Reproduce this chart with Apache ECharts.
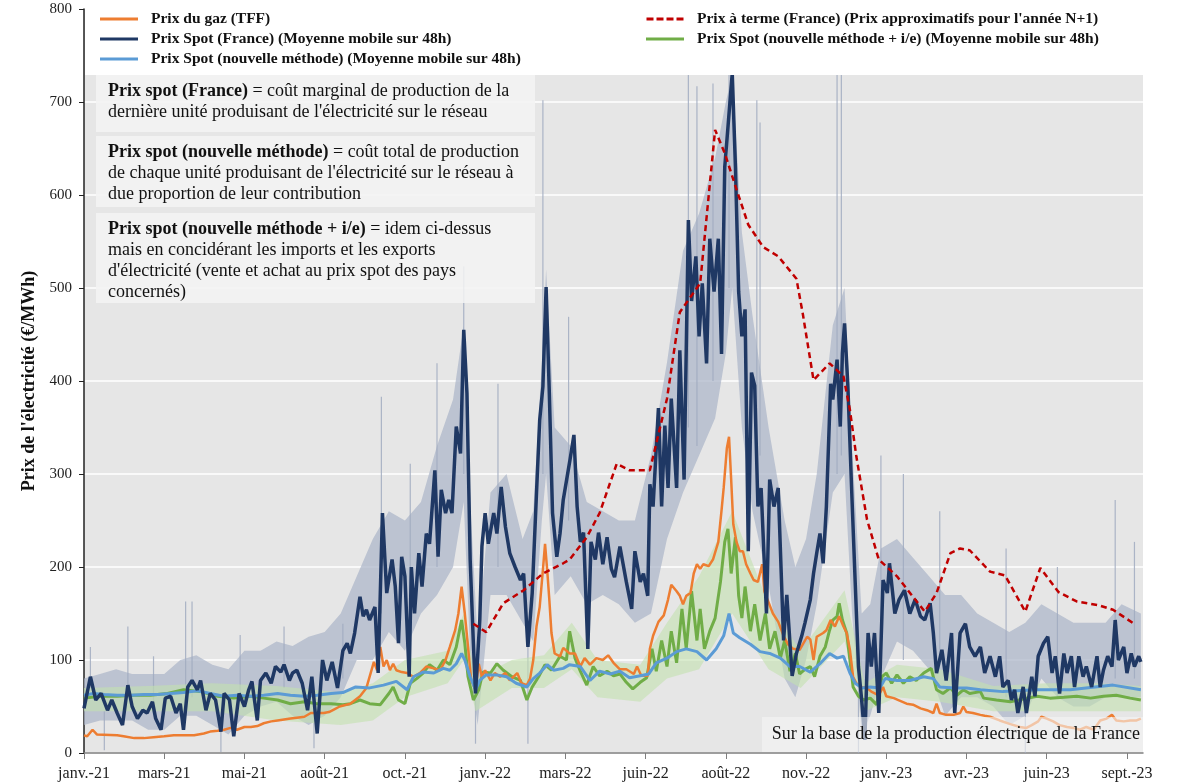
<!DOCTYPE html>
<html>
<head>
<meta charset="utf-8">
<script src="https://cdn.jsdelivr.net/npm/echarts@6/dist/echarts.min.js"></script>
<style>
  html, body { margin: 0; padding: 0; background: #fff; }
  #chart { width: 1200px; height: 784px; }
</style>
</head>
<body>
<div id="chart"></div>
<script>
// x = jours depuis le 1er janvier 2021, y = €/MWh
const xTickLabels = ['janv.-21', 'mars-21', 'mai-21', 'août-21', 'oct.-21', 'janv.-22', 'mars-22',
  'juin-22', 'août-22', 'nov.-22', 'janv.-23', 'avr.-23', 'juin-23', 'sept.-23']

const spotFrance = [[0,48],[6,82],[11,57],[16,64],[22,46],[26,57],[31,43],[36,30],[41,73],[45,50],[50,37],[55,46],[59,43],[64,55],[67,37],[72,25],[76,59],[81,61],[86,43],[90,53],[93,25],[97,71],[101,78],[106,68],[109,78],[114,46],[118,64],[123,57],[128,23],[131,64],[136,57],[140,18],[145,64],[150,50],[154,68],[157,77],[162,35],[165,78],[170,86],[175,75],[179,93],[184,87],[187,95],[192,78],[195,86],[199,89],[204,75],[209,46],[213,82],[218,21],[223,100],[227,78],
  [232,98],[237,70],[242,110],[246,118],[249,107],[253,129],[258,168],[261,147],[264,154],[267,143],[272,157],[275,86],[279,258],[283,172],[288,208],[291,179],[294,118],[297,211],[300,190],[304,82],[306,200],[309,150],[313,215],[316,179],[320,236],[323,225],[328,304],[331,211],[334,283],[338,258],[341,272],[344,258],[348,351],[352,322],[355,455],[358,387],[361,208],[364,118],[366,64],[370,143],[372,222],[375,258],[378,225],[383,258],[386,236],[390,286],[394,243],[398,215],[403,200],[408,186],[411,193],[415,114],[419,172],[423,279],[426,358],[429,394],[432,501],[435,387],[438,258],[442,211],[445,236],[448,272],
  [454,313],[458,342],[461,265],[464,227],[467,237],[471,112],[474,227],[478,208],[481,237],[485,203],[489,232],[493,198],[496,189],[501,222],[504,203],[507,184],[512,155],[515,217],[520,184],[523,193],[527,169],[529,289],[532,265],[537,371],[540,265],[543,352],[546,285],[549,381],[554,285],[557,433],[561,294],[565,573],[568,486],[572,534],[575,448],[578,505],[582,419],[585,553],[589,496],[593,553],[596,429],[599,630],[602,673],[606,731],[609,630],[612,496],[615,448],[618,477],[621,217],[624,409],[627,395],[630,265],[633,285],[638,150],[641,294],[645,265],[649,285],[654,121],[657,170],[662,83],[666,107],[671,126],[674,140],
  [679,165],[682,193],[685,215],[688,236],[691,204],[694,265],[698,397],[700,380],[704,423],[707,351],[709,430],[711,462],[714,397],[718,272],[721,182],[724,93],[727,57],[730,14],[733,129],[736,93],[739,129],[743,43],[747,186],[751,172],[753,204],[758,150],[762,165],[767,175],[772,150],[777,165],[782,147],[786,143],[791,161],[794,129],[797,86],[802,111],[806,78],[811,129],[814,43],[819,129],[824,139],
  [828,114],[833,104],[838,114],[842,86],[847,104],[852,82],[856,104],[859,71],[864,78],[867,57],[870,68],[873,43],[878,71],[881,43],[886,82],[889,61],[892,104],[897,118],[901,125],[905,86],[908,104],[912,64],[916,107],[919,86],[923,104],[926,71],[930,104],[934,82],[937,93],[942,71],[947,104],[950,71],[953,89],[957,104],[961,93],[964,143],[967,100],[972,114],[975,86],[979,107],[982,93],[986,104],[988,98]]

const gasTTF = [[0,19],[3,18],[8,25],[12,20],[31,19],[37,18],[47,16],[56,16],[65,17],[75,18],[84,19],[93,19],[103,19],[112,21],[118,23],[125,24],[131,25],[137,27],[143,25],[150,28],[156,28],[162,29],[168,32],[175,34],[181,35],[187,36],[193,37],[199,38],[206,39],[212,43],[218,43],[224,43],[229,44],
  [234,47],[239,50],[249,53],[258,61],[264,70],[271,98],[274,89],[277,114],[280,93],[283,100],[286,89],[289,96],[292,89],[297,87],[302,86],[308,82],[314,86],[320,93],[327,91],[333,89],[338,100],[342,114],[347,132],[350,150],[353,179],[356,150],[359,114],[362,78],[366,68],[369,96],[372,82],[375,89],[380,78],[384,86],[389,82],[394,86],[398,78],[405,86],[409,75],[414,73],[417,80],[420,100],[423,136],[426,157],[429,197],[431,225],[433,197],[435,165],[437,129],[440,107],[445,104],[448,113],
  [454,107],[459,107],[464,93],[468,102],[473,95],[479,102],[485,100],[490,105],[495,97],[501,90],[507,90],[514,85],[517,93],[521,83],[527,83],[529,112],[532,126],[537,141],[542,148],[546,165],[549,181],[554,174],[557,169],[560,160],[563,169],[567,172],[570,193],[573,203],[576,198],[579,203],[584,201],[588,208],[593,227],[596,261],[598,285],[601,328],[603,340],[605,294],[607,246],[610,227],[613,217],[616,217],[619,203],[623,193],[626,186],[630,184],[634,203],[636,174],[640,162],[644,150],[649,141],[654,126],[658,117],[663,112],[669,111],[676,125],[679,122],[682,100],[685,125],[691,129],[694,132],[698,143],[702,136],[706,147],[710,136],[713,129],[716,111],[719,82],[722,75],[727,71],[732,70],[736,66],[743,62],[747,71],[750,61],[757,59],[763,56],[769,53],[775,52],[782,48],[788,46],[794,43],[797,53],[800,43],[806,41],[813,41],[819,43],[822,50],[825,44],[831,43],[838,41],
  [842,40],[847,39],[856,35],[866,31],[875,28],[881,27],[886,30],[892,34],[895,39],[900,37],[906,34],[912,30],[919,28],[925,27],[931,25],[937,28],[944,25],[950,35],[956,37],[961,41],[965,35],[972,34],[978,35],[984,35],[988,37]]

const spotNouvelle = [[0,62],[9,64],[19,63],[31,62],[44,62],[56,63],[69,63],[81,64],[93,65],[106,67],[118,64],[131,61],[143,62],[156,61],[168,62],[181,64],[193,62],[206,61],[218,62],[231,64],[242,65],
  [254,71],[267,70],[280,73],[292,77],[302,68],[308,82],[317,87],[327,86],[336,91],[342,89],[348,96],[353,107],[356,100],[361,82],[366,68],[370,78],[376,84],[386,84],[395,82],[404,75],[414,71],[420,80],[426,86],[433,95],[439,89],[448,91],
  [454,95],[464,93],[473,78],[482,88],[492,85],[501,88],[510,81],[520,83],[528,85],[535,97],[545,102],[554,109],[563,112],[573,109],[582,100],[591,112],[598,126],[603,150],[607,129],[613,124],[623,117],[632,109],[641,107],[651,102],[660,93],[669,93],
  [679,87],[688,96],[697,107],[704,102],[710,104],[716,86],[721,75],[727,70],[735,71],[744,70],[749,80],[760,78],[772,78],[785,82],[794,80],[800,71],[813,70],[825,70],
  [838,68],[859,66],[890,68],[922,68],[962,73],[988,68]]

const spotNouvelleIE = [[0,59],[16,61],[31,61],[47,62],[62,62],[78,64],[93,68],[109,66],[125,61],[140,59],[156,61],[168,59],[181,57],[193,53],[206,55],[218,53],[231,53],[242,52],
  [249,53],[258,57],[267,53],[277,52],[285,64],[289,71],[294,57],[300,53],[305,75],[311,80],[317,86],[323,95],[330,89],[336,100],[342,95],[348,114],[353,143],[356,118],[359,82],[364,57],[369,68],[373,87],[380,86],[386,96],[392,89],[400,82],[408,78],[414,57],[419,71],[425,82],[431,95],[437,89],[445,104],[451,100],
  [454,131],[459,102],[464,88],[470,73],[476,93],[482,83],[489,88],[495,83],[501,85],[507,76],[513,69],[520,76],[526,81],[531,112],[535,88],[540,121],[545,93],[549,131],[554,97],[559,155],[563,112],[568,174],[573,121],[576,155],[580,112],[585,131],[590,145],[595,184],[599,227],[602,241],[605,193],[609,232],[612,169],[615,145],[618,179],[623,131],[627,160],[632,121],[637,150],[641,112],[646,131],[651,102],[655,121],[660,88],[665,107],[669,85],[674,90],
  [679,93],[683,82],[688,104],[693,114],[697,132],[700,143],[704,147],[706,161],[709,143],[713,129],[716,100],[719,71],[724,61],[729,57],[735,59],[741,52],[746,82],[750,86],[755,75],[760,84],[766,75],[772,82],[778,78],[785,86],[792,91],[797,68],[803,64],[810,70],[816,62],[822,68],[828,64],[838,66],
  [841,59],[853,57],[866,55],[878,58],[891,61],[903,59],[916,60],[928,61],[941,59],[953,61],[965,62],[978,59],[988,57]]

const prixTerme = [[364,139],[376,130],[392,161],[411,175],[429,193],[448,204],[454,208],[470,232],[482,258],[498,311],[510,304],[529,304],[535,333],[545,381],[557,474],[576,505],[590,670],[599,645],[610,606],[621,568],[635,544],[649,534],[666,510],[672,472],[682,401],[697,419],[710,405],[716,369],[722,319],[732,251],[743,208],[760,190],[775,168],[786,152],[797,172],[810,215],[819,220],[828,218],[847,195],[861,191],[880,152],[894,199],[911,173],[928,163],[948,159],[962,154],[983,138]]

// données horaires brutes (France) : enveloppe [jour, bas, haut] et pics isolés [jour, bas, haut]
const spotHoraireBande = [[0,30,80],[15,35,85],[30,35,90],[45,35,85],[60,25,85],[75,25,85],[90,40,100],[105,40,105],[120,30,95],[135,20,90],[150,40,110],[165,50,110],[180,55,120],[195,40,115],[210,30,125],[225,40,130],[240,60,150],[255,100,190],[270,100,230],[285,130,260],[300,110,250],[315,150,270],[330,170,330],[345,200,380],[355,270,460],[362,80,250],[368,30,120],[380,170,280],[395,170,300],[410,140,230],[420,120,260],[428,250,420],[432,300,520],[440,170,350],[455,190,330],[470,160,270],[485,170,260],[500,160,250],[515,140,250],[530,150,320],[545,230,420],[560,280,540],[575,320,580],[590,360,640],[600,430,700],[606,500,729],[615,350,560],[625,260,470],[640,180,350],[655,80,250],[665,60,200],[675,100,230],[685,160,300],[700,280,460],[711,300,500],[718,150,330],[727,20,150],[735,40,160],[745,80,220],[760,120,230],[775,110,210],[790,90,190],[805,40,170],[820,60,170],[835,60,150],[850,50,140],[865,30,130],[880,40,140],[895,80,160],[910,60,150],[925,50,140],[940,50,140],[955,60,140],[970,60,160],[988,60,150]]
const spotHorairePics = [[6,70,114],[19,3,45],[41,60,136],[65,50,104],[95,60,163],[101,60,163],[128,1,30],[146,60,127],[187,70,136],[215,5,50],[242,80,139],[278,150,383],[305,150,311],[330,200,419],[355,300,523],[366,10,80],[387,200,397],[415,10,120],[429,300,702],[453,250,469],[565,350,729],[573,330,717],[588,400,720],[603,500,729],[629,300,702],[632,320,678],[704,300,729],[708,320,729],[724,0,80],[745,100,320],[766,100,300],[800,100,260],[862,60,220],[880,0,60],[910,60,200],[964,80,272],[982,80,227]]
const ieBande = [[0,45,70],[60,45,72],[120,45,75],[180,35,72],[240,30,65],[270,35,75],[300,60,100],[340,75,110],[355,100,150],[366,45,80],[400,70,100],[430,70,105],[456,90,140],[480,60,100],[520,55,95],[545,80,140],[575,90,190],[606,150,260],[640,90,160],[670,70,110],[711,120,175],[730,45,75],[760,60,95],[800,55,90],[850,45,72],[900,45,75],[950,45,75],[988,45,72]]

const SERIF = 'Liberation Serif'
const names = {
  gaz: 'Prix du gaz (TFF)',
  fr: 'Prix Spot (France) (Moyenne mobile sur 48h)',
  nm: 'Prix Spot (nouvelle méthode) (Moyenne mobile sur 48h)',
  terme: "Prix à terme (France) (Prix approximatifs pour l'année N+1)",
  ie: 'Prix Spot (nouvelle méthode + i/e) (Moyenne mobile sur 48h)'
}
const ICON_LINE = 'path://M0,0H38V3H0Z'
const ICON_DASH = 'path://M0,0H7V3H0Z M10,0H17V3H10Z M20,0H27V3H20Z M30,0H37V3H30Z'

// bande remplie entre bas et haut
function bandSeries(data, color) {
  return {
    type: 'custom', silent: true, z: 1, data: [[data[0][0], data[0][1]]],
    renderItem: (params, api) => {
      const top = data.map(d => api.coord([d[0], d[2]]))
      const bottom = data.slice().reverse().map(d => api.coord([d[0], d[1]]))
      return { type: 'polygon', shape: { points: top.concat(bottom) }, style: { fill: color } }
    }
  }
}

const chart = echarts.init(document.getElementById('chart'))
const legendText = { fontFamily: SERIF, fontSize: 15.5, fontWeight: 'bold', color: '#111', padding: [0, 0, 0, 8] }
const legendBase = { orient: 'vertical', top: 11, itemGap: 4, itemWidth: 38, itemHeight: 3, z: 30,
  textStyle: legendText, padding: 0 }

chart.setOption({
  animation: false,
  textStyle: { fontFamily: SERIF },
  grid: { left: 84, right: 57, top: 9, bottom: 31, show: true, backgroundColor: '#e6e6e6', borderWidth: 0 },
  legend: [
    Object.assign({}, legendBase, { left: 100,
      data: [{ name: names.gaz, icon: ICON_LINE }, { name: names.fr, icon: ICON_LINE }, { name: names.nm, icon: ICON_LINE }] }),
    Object.assign({}, legendBase, { left: 646,
      data: [{ name: names.terme, icon: ICON_DASH }, { name: names.ie, icon: ICON_LINE }] })
  ],
  xAxis: {
    type: 'value', min: 0, max: 990, interval: 75,
    splitLine: { show: false },
    axisLine: { lineStyle: { color: '#7f7f7f', width: 1.5 } },
    axisTick: { show: true, length: 6, lineStyle: { color: '#7f7f7f' } },
    axisLabel: {
      fontFamily: SERIF, fontSize: 16, color: '#222', margin: 13, showMaxLabel: false,
      formatter: v => (v % 75 === 0 ? (xTickLabels[v / 75] || '') : '')
    }
  },
  yAxis: {
    type: 'value', min: 0, max: 800, interval: 100,
    name: "Prix de l'électricité (€/MWh)", nameLocation: 'middle', nameGap: 41,
    nameTextStyle: { fontFamily: SERIF, fontSize: 18, fontWeight: 'bold', color: '#111' },
    axisLine: { show: true, lineStyle: { color: '#222', width: 1.5 } },
    axisTick: { show: true, length: 5, lineStyle: { color: '#222' } },
    axisLabel: { fontFamily: SERIF, fontSize: 15, color: '#222', margin: 12 },
    splitLine: { lineStyle: { color: '#ffffff', width: 1.5 } }
  },
  series: [
    bandSeries(spotHoraireBande, 'rgba(170,180,200,0.7)'),
    {
      type: 'custom', silent: true, z: 1,
      data: spotHorairePics,
      encode: { x: 0, y: [1, 2] },
      renderItem: (params, api) => {
        const a = api.coord([api.value(0), api.value(1)])
        const b = api.coord([api.value(0), api.value(2)])
        return { type: 'line', shape: { x1: a[0], y1: a[1], x2: b[0], y2: b[1] },
          style: { stroke: 'rgba(160,170,192,0.85)', lineWidth: 1.2 } }
      }
    },
    bandSeries(ieBande, 'rgba(195,225,175,0.6)'),
    { name: names.ie, type: 'line', data: spotNouvelleIE, symbol: 'none', z: 3,
      lineStyle: { color: '#70ad47', width: 3 }, itemStyle: { color: '#70ad47' } },
    { name: names.gaz, type: 'line', data: gasTTF, symbol: 'none', z: 4,
      lineStyle: { color: '#ed7d31', width: 2.5 }, itemStyle: { color: '#ed7d31' } },
    { name: names.nm, type: 'line', data: spotNouvelle, symbol: 'none', z: 5,
      lineStyle: { color: '#5b9bd5', width: 3 }, itemStyle: { color: '#5b9bd5' } },
    { name: names.fr, type: 'line', data: spotFrance, symbol: 'none', z: 6,
      lineStyle: { color: '#1f3864', width: 3.5 }, itemStyle: { color: '#1f3864' } },
    { name: names.terme, type: 'line', data: prixTerme, symbol: 'none', z: 7,
      lineStyle: { color: '#c00000', width: 2.5, type: [6, 4] }, itemStyle: { color: '#c00000' } }
  ],
  graphic: [
    // fond blanc de la légende
    { type: 'rect', z: 20, silent: true, shape: { x: 85, y: 9, width: 1058, height: 66 }, style: { fill: '#ffffff' } },
    { type: 'rect', z: 20, silent: true, shape: { x: 96, y: 75, width: 439, height: 57 }, style: { fill: 'rgba(243,243,243,0.85)' } },
    { type: 'text', z: 21, silent: true, left: 108, top: 81,
      style: { text: "{b|Prix spot (France)} = coût marginal de production de la\ndernière unité produisant de l'électricité sur le réseau",
        font: '18px "Liberation Serif"', fill: '#111', lineHeight: 21,
        rich: { b: { fontWeight: 'bold', fontFamily: SERIF, fontSize: 18, lineHeight: 21 } } } },
    { type: 'rect', z: 20, silent: true, shape: { x: 96, y: 136, width: 439, height: 71 }, style: { fill: 'rgba(243,243,243,0.85)' } },
    { type: 'text', z: 21, silent: true, left: 108, top: 142,
      style: { text: "{b|Prix spot (nouvelle méthode)} = coût total de production\nde chaque unité produisant de l'électricité sur le réseau à\ndue proportion de leur contribution",
        font: '18px "Liberation Serif"', fill: '#111', lineHeight: 21,
        rich: { b: { fontWeight: 'bold', fontFamily: SERIF, fontSize: 18, lineHeight: 21 } } } },
    { type: 'rect', z: 20, silent: true, shape: { x: 96, y: 213, width: 439, height: 90 }, style: { fill: 'rgba(243,243,243,0.85)' } },
    { type: 'text', z: 21, silent: true, left: 108, top: 219,
      style: { text: "{b|Prix spot (nouvelle méthode + i/e)} = idem ci-dessus\nmais en concidérant les imports et les exports\nd'électricité (vente et achat au prix spot des pays\nconcernés)",
        font: '18px "Liberation Serif"', fill: '#111', lineHeight: 21,
        rich: { b: { fontWeight: 'bold', fontFamily: SERIF, fontSize: 18, lineHeight: 21 } } } },
    { type: 'rect', z: 20, silent: true, shape: { x: 762, y: 717, width: 381, height: 35 }, style: { fill: 'rgba(245,245,245,0.6)' } },
    { type: 'text', z: 21, silent: true, right: 60, top: 725,
      style: { text: 'Sur la base de la production électrique de la France', font: '18px "Liberation Serif"', fill: '#111' } }
  ]
})
</script>
</body>
</html>
